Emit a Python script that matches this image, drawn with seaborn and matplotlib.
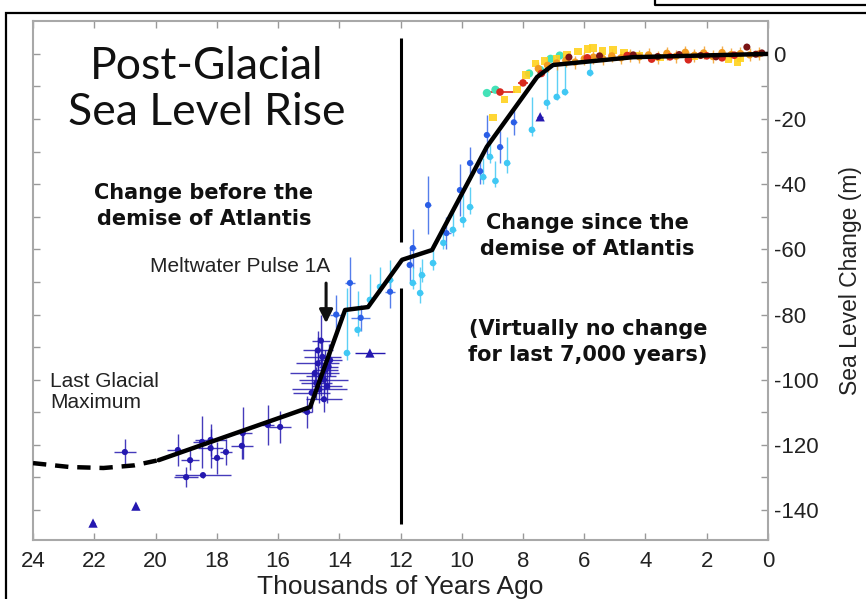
import numpy as np
import pandas as pd
import seaborn as sns
import matplotlib.pyplot as plt
from matplotlib.patches import Rectangle
from matplotlib.lines import Line2D

# smoothed sea level curve (thousands of years ago, metres)
curve_x = [19.9, 14.95, 13.81, 13.06, 11.95, 10.97, 9.18, 7.54, 7.02, 4.4, 0.0]
curve_y = [-124.7, -108.4, -78.6, -77.7, -63.2, -60.2, -28.5, -7.1, -3.4, -1.0, 0.0]
dash_x = [24.0, 22.8, 21.7, 20.7, 19.9]
dash_y = [-125.6, -126.8, -127.1, -126.3, -124.7]

# dark blue records
navy_x = [21.0, 19.27, 18.87, 19.0, 18.48, 18.45, 18.2, 18.2, 17.99, 17.7, 17.18, 17.15, 16.33, 15.93, 15.05,
          14.9, 14.8, 14.75, 14.7, 14.65, 14.6, 14.55, 14.5, 14.45, 14.4, 14.35, 14.3, 14.6, 14.5, 14.7]
navy_y = [-122.2, -121.6, -124.7, -129.9, -119.1, -129.3, -118.5, -121.0, -124.0, -122.2, -120.3, -116.4, -113.9, -114.5, -109.9,
          -104, -98, -101, -95, -103, -99, -93, -100, -97, -102, -96, -94, -88, -106, -91]
navy_xerr = [0.35, 0.35, 0.3, 0.4, 0.3, 0.9, 0.5, 0.4, 0.2, 0.2, 0.35, 0.3, 0.2, 0.35, 0.15,
             0.6, 0.8, 0.5, 0.7, 0.9, 0.5, 0.6, 0.8, 0.4, 0.5, 0.3, 0.4, 0.3, 0.6, 0.5]
navy_yerr = [4, 5, 3, 3, 8, 1, 5, 6, 5, 4, 4, 8, 6, 5, 5,
             6, 7, 5, 8, 4, 6, 5, 4, 6, 5, 7, 5, 8, 4, 6]

# medium blue records
blue_x = [14.1, 13.65, 13.3, 12.34, 11.7, 11.6, 11.1, 10.5, 10.06, 9.73, 9.4, 9.18, 8.75, 8.3]
blue_y = [-80, -70.3, -81, -73, -64.8, -59.6, -46.4, -55, -41.8, -33.5, -36, -24.9, -28.6, -21]
blue_xerr = [0.2, 0.15, 0.3, 0.15, 0.1, 0.1, 0.1, 0.15, 0.1, 0.1, 0.1, 0.1, 0.1, 0.1]
blue_yerr = [6, 8, 4, 5, 5, 6, 9, 5, 8, 5, 4, 6, 5, 4]

# light blue records (mostly upper limits)
cyan_x = [13.75, 13.4, 13.0, 12.67, 12.34, 11.6, 11.36, 11.3, 10.94, 10.6, 10.29, 9.96, 9.73, 9.3, 9.08, 8.52, 8.9,
          7.71, 7.22, 6.9, 6.63, 5.81]
cyan_y = [-91.8, -84.7, -75.5, -71.5, -69.4, -70.3, -73.4, -67.9, -64.2, -58, -54, -51, -47, -37.8, -31.6, -33.5, -39,
          -23.3, -15, -13.2, -11.7, -5.8]
cyan_lo = [2, 2, 2, 2, 2, 2, 3, 2, 2, 2, 2, 2, 2, 2, 2, 3, 2, 2, 2, 1, 1, 1]
cyan_hi = [20, 12, 8, 6, 6, 5, 8, 5, 6, 5, 6, 8, 6, 6, 5, 8, 6, 10, 12, 10, 9, 4]

# triangles
tri_x = [22.04, 20.64, 13.0, 7.44]
tri_y = [-144.0, -138.8, -91.8, -19.3]
tri_xerr = [0.05, 0.05, 0.5, 0.1]

# late records
yel_x = [8.98, 8.6, 8.2, 7.9, 7.6, 7.3, 6.9, 6.56, 6.2, 5.9, 5.71, 5.4, 5.06, 4.7, 4.2, 3.5, 2.4, 1.3, 1.0, 0.9]
yel_y = [-19.6, -14, -11, -6.5, -3.0, -2.2, -1.5, -0.3, 0.8, 1.5, 1.8, 0.9, 1.2, 0.5, -0.5, -1.2, -0.8, -1.8, -2.5, -1.5]
teal_x = [9.18, 8.9, 7.8, 7.44, 7.1, 6.8]
teal_y = [-12, -11, -6, -4.9, -1.5, -0.5]
orange_x = [7.5, 7.2, 6.9, 6.6, 6.3, 6.0, 5.7, 5.4, 5.1, 4.8, 4.5, 4.2, 3.9, 3.6, 3.3, 3.0, 2.7, 2.4, 2.1, 1.8,
            1.5, 1.2, 0.9, 0.6, 0.3]
orange_y = [-4.5, -3.5, -2.8, -2.0, -2.5, -1.5, -1.0, -1.4, -0.6, -1.2, -0.4, -0.9, -0.3, -1.0, 0.2, -0.7, 0.5, -0.4,
            0.3, -0.8, 0.4, -0.2, 0.1, -0.3, 0.0]
red_x = [8.75, 8.0, 7.4, 5.9, 4.6, 3.8, 3.2, 2.6, 2.0, 1.5, 1.1]
red_y = [-11.7, -8.9, -6, -1.2, -0.5, -1.6, -0.9, -1.8, -0.6, -1.2, -0.4]
red_xerr = [0.5, 0.15, 0.1, 0.1, 0.1, 0.1, 0.1, 0.1, 0.1, 0.1, 0.1]
dred_x = [6.5, 5.5, 4.4, 3.6, 2.9, 2.2, 1.7, 0.69, 0.4, 0.2]
dred_y = [-1.0, -0.6, -0.3, -0.8, -0.2, -0.5, -0.9, 2.1, -0.1, 0.3]

sns.set_theme(style="white")
plt.rcParams['font.family'] = ['Liberation Sans', 'DejaVu Sans']

fig = plt.figure(figsize=(8.66, 5.99), dpi=100)
ax = fig.add_axes([33 / 866, 1 - 540 / 599, 735 / 866, 519 / 599])

# error bars
ax.errorbar(navy_x, navy_y, xerr=navy_xerr, yerr=navy_yerr, fmt='none', ecolor='#2418b0', elinewidth=1.0, alpha=0.85, zorder=2)
ax.errorbar(blue_x, blue_y, xerr=blue_xerr, yerr=blue_yerr, fmt='none', ecolor='#2a5ee6', elinewidth=1.0, alpha=0.8, zorder=2)
ax.errorbar(cyan_x, cyan_y, yerr=[cyan_lo, cyan_hi], xerr=0.1, fmt='none', ecolor='#40c8f4', elinewidth=1.0, alpha=0.85, zorder=2)
ax.errorbar(tri_x, tri_y, xerr=tri_xerr, fmt='none', ecolor='#2418b0', elinewidth=1.0, zorder=2)
ax.errorbar(orange_x, orange_y, yerr=2.0, xerr=0.12, fmt='none', ecolor='#f29a20', elinewidth=1.0, alpha=0.8, zorder=2)
ax.errorbar(red_x, red_y, xerr=red_xerr, yerr=1.0, fmt='none', ecolor='#d8281e', elinewidth=1.2, zorder=2)

# points
sns.scatterplot(x=navy_x, y=navy_y, color='#2418b0', s=20, edgecolor='none', ax=ax, zorder=3)
sns.scatterplot(x=blue_x, y=blue_y, color='#2a5ee6', s=20, edgecolor='none', ax=ax, zorder=3)
sns.scatterplot(x=cyan_x, y=cyan_y, color='#40c8f4', s=22, edgecolor='none', ax=ax, zorder=3)
sns.scatterplot(x=tri_x, y=tri_y, color='#2418b0', s=45, marker='^', edgecolor='none', ax=ax, zorder=3)
sns.scatterplot(x=teal_x, y=teal_y, color='#44e2b8', s=35, edgecolor='none', ax=ax, zorder=3)
sns.scatterplot(x=yel_x, y=yel_y, color='#ffd21e', s=28, marker='s', edgecolor='none', alpha=0.9, ax=ax, zorder=3)
sns.scatterplot(x=orange_x, y=orange_y, color='#f29a20', s=28, edgecolor='none', ax=ax, zorder=3)
sns.scatterplot(x=red_x, y=red_y, color='#d8281e', s=30, edgecolor='none', ax=ax, zorder=3)
sns.scatterplot(x=dred_x, y=dred_y, color='#7a1414', s=26, edgecolor='none', ax=ax, zorder=3)

# curve
sns.lineplot(x=curve_x, y=curve_y, sort=False, color='black', lw=3.2, ax=ax, zorder=5)
sns.lineplot(x=dash_x, y=dash_y, sort=False, color='black', lw=3.2, linestyle=(0, (3, 2)), ax=ax, zorder=5)

# 12,000 years marker
ax.vlines([12, 12], [-57.7, -144.3], [4.9, -71.8], color='black', lw=2.2, zorder=6)

ax.annotate('', xy=(14.43, -83.5), xytext=(14.43, -69.5),
            arrowprops=dict(arrowstyle='-|>', color='#111111', lw=2.2, mutation_scale=20))

ax.set_xlim(24, 0)
ax.set_ylim(-149.2, 10.1)
ax.set_xticks(range(0, 25, 2))
yt = list(range(-140, 1, 10))
ax.set_yticks(yt)
ax.set_yticklabels([str(v) if v % 20 == 0 else '' for v in yt])
ax.tick_params(axis='x', direction='in', top=True, bottom=True, length=5, width=1, color='#999999',
               labelsize=16, labelcolor='#222222', pad=8)
ax.tick_params(axis='y', direction='in', left=True, right=True, labelleft=False, labelright=True,
               length=5, width=1, color='#999999', labelsize=16, labelcolor='#222222', pad=4)
for sp in ax.spines.values():
    sp.set_color('#a8a8a8')
    sp.set_linewidth(1.5)

ax.set_xlabel('Thousands of Years Ago', fontsize=19, color='#222222', labelpad=2)
ax.yaxis.set_label_position('right')
ax.set_ylabel('Sea Level Change (m)', fontsize=16.5, color='#222222', labelpad=15)

# annotations
ax.text(18.32, -11, 'Post-Glacial\nSea Level Rise', family=['Lato', 'DejaVu Sans'], fontsize=32,
        ha='center', va='center', color='#111111', linespacing=1.15)
ax.text(18.42, -46.7, 'Change before the\ndemise of Atlantis', family=['DejaVu Sans'], weight='bold',
        fontsize=15, ha='center', va='center', color='#111111', linespacing=1.35)
ax.text(5.91, -55.9, 'Change since the\ndemise of Atlantis', family=['DejaVu Sans'], weight='bold',
        fontsize=15, ha='center', va='center', color='#111111', linespacing=1.35)
ax.text(5.88, -88.4, '(Virtually no change\nfor last 7,000 years)', family=['DejaVu Sans'], weight='bold',
        fontsize=15, ha='center', va='center', color='#111111', linespacing=1.35)
ax.text(17.24, -65.1, 'Meltwater Pulse 1A', fontsize=15, ha='center', va='center', color='#222222')
ax.text(23.44, -103.8, 'Last Glacial\nMaximum', fontsize=15, ha='left', va='center', color='#222222',
        linespacing=1.15)

# outer frame
fig.add_artist(Rectangle((6 / 866, -0.01), 1.0, 1 - 13 / 599 + 0.01, transform=fig.transFigure,
                         fill=False, edgecolor='black', lw=1.6))
fig.add_artist(Line2D([655 / 866, 655 / 866, 1.0], [1.0, 1 - 5 / 599, 1 - 5 / 599],
                      transform=fig.transFigure, color='black', lw=1.6))

fig.savefig('out.png', dpi=100)
